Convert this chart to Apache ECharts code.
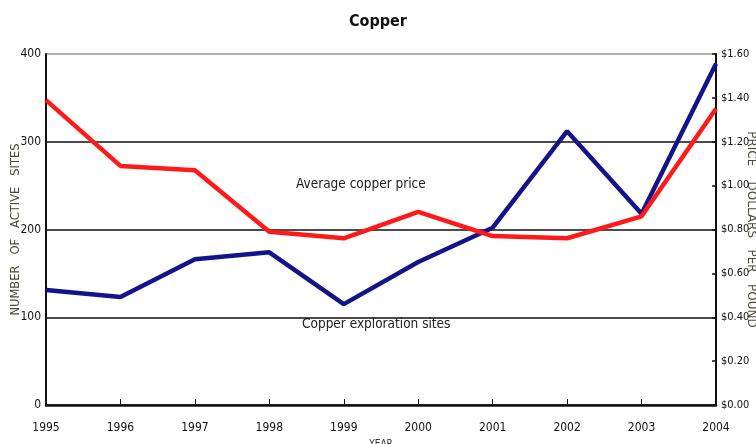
<!DOCTYPE html>
<html>
<head>
<meta charset="utf-8">
<script src="https://cdn.jsdelivr.net/npm/echarts@6/dist/echarts.min.js"></script>
<style>html,body{margin:0;padding:0;background:#fff;}#chart{width:756px;height:444px;}</style>
</head>
<body>
<div id="chart"></div>
<script>
const years = ['1995','1996','1997','1998','1999','2000','2001','2002','2003','2004'];
const activeSites = [131, 123, 166, 174, 115, 163, 202, 312, 218, 389];
const copperPrice = [1.39, 1.09, 1.07, 0.79, 0.76, 0.88, 0.77, 0.76, 0.86, 1.35];
const leftTicks = [0, 100, 200, 300, 400];
const rightTicks = [0, 0.2, 0.4, 0.6, 0.8, 1.0, 1.2, 1.4, 1.6];

const narrow = '"Liberation Sans Narrow", "DejaVu Sans Condensed", sans-serif';
const chart = echarts.init(document.getElementById('chart'));
chart.setOption({
  animation: false,
  backgroundColor: '#fff',
  title: {
    text: 'Copper', left: 'center', top: 9,
    textStyle: { fontFamily: '"DejaVu Sans Condensed", sans-serif', fontSize: 16, fontWeight: 'bold', color: '#111' }
  },
  grid: { left: 46, right: 40, top: 54, bottom: 39, containLabel: false, outerBoundsMode: 'none' },
  xAxis: {
    type: 'category', data: years, boundaryGap: false,
    name: 'YEAR', nameLocation: 'middle', nameGap: 34, nameMoveOverlap: false,
    nameTextStyle: { fontFamily: narrow, fontSize: 10, color: '#333' },
    axisLine: { lineStyle: { color: '#111', width: 2.5 } },
    axisTick: { inside: true, length: 6, lineStyle: { color: '#111', width: 1 } },
    axisLabel: { margin: 17, fontFamily: narrow, fontSize: 12, color: '#111' },
    splitLine: { show: false }
  },
  yAxis: [
    {
      type: 'value', min: leftTicks[0], max: leftTicks[leftTicks.length - 1], interval: 100,
      name: 'NUMBER   OF   ACTIVE   SITES', nameLocation: 'middle', nameRotate: 90, nameGap: 24,
      nameMoveOverlap: false,
      nameTextStyle: { fontFamily: 'DejaVu Sans, sans-serif', fontSize: 11.5, color: '#4a4a3a' },
      axisLine: { show: true, lineStyle: { color: '#111', width: 2 } },
      axisTick: { show: false },
      axisLabel: { margin: 5, fontFamily: narrow, fontSize: 12, color: '#111' },
      splitLine: { show: true, lineStyle: { color: ['#111', '#111', '#111', '#111', '#999'], width: 1.5 } }
    },
    {
      type: 'value', min: rightTicks[0], max: rightTicks[rightTicks.length - 1], interval: 0.2,
      name: 'PRICE    DOLLARS   PER   POUND', nameLocation: 'middle', nameRotate: -90, nameGap: 29,
      nameMoveOverlap: false,
      nameTextStyle: { fontFamily: 'DejaVu Sans, sans-serif', fontSize: 12, color: '#4a4a3a' },
      position: 'right',
      axisLine: { show: true, lineStyle: { color: '#111', width: 2 } },
      axisTick: { show: true, inside: true, length: 4, lineStyle: { color: '#111', width: 1.5 } },
      axisLabel: { margin: 5, fontFamily: narrow, fontSize: 11, color: '#111',
        formatter: v => '$' + v.toFixed(2) },
      splitLine: { show: false }
    }
  ],
  series: [
    {
      name: 'Copper exploration sites', type: 'line', data: activeSites, yAxisIndex: 0,
      symbol: 'none', lineStyle: { color: '#14148a', width: 4.5 }, z: 3
    },
    {
      name: 'Average copper price', type: 'line', data: copperPrice, yAxisIndex: 1,
      symbol: 'none', lineStyle: { color: '#ff1a1a', width: 4.5 }, z: 4
    }
  ],
  graphic: [
    { type: 'text', left: 296, top: 177,
      style: { text: 'Average copper price', fontFamily: narrow, fontSize: 13.5, fill: '#222' } },
    { type: 'text', left: 302, top: 317,
      style: { text: 'Copper exploration sites', fontFamily: narrow, fontSize: 13.5, fill: '#222' } }
  ]
});
</script>
</body>
</html>
